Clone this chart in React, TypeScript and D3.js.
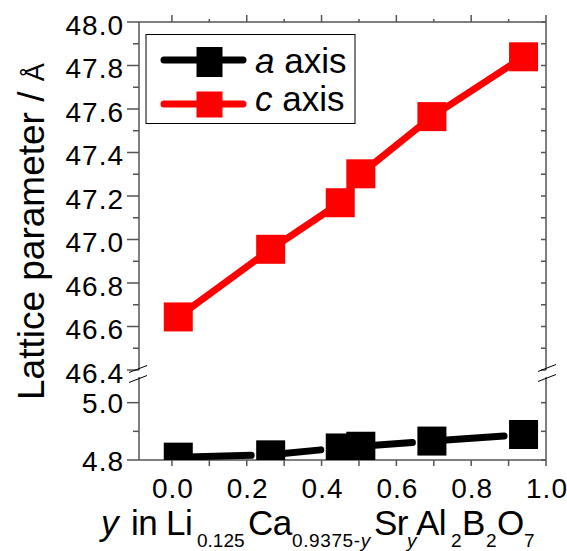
import * as d3 from 'd3'

// composition y in Li0.125Ca0.9375-ySryAl2B2O7
const Y_FRACTION = [0.017, 0.264, 0.45, 0.505, 0.695, 0.94]
const A_AXIS = [4.81, 4.818, 4.842, 4.848, 4.866, 4.889]
const C_AXIS = [46.644, 46.955, 47.169, 47.302, 47.565, 47.84]

const X_TICKS = [0, 0.2, 0.4, 0.6, 0.8, 1.0]
const X_MINOR = [0.1, 0.3, 0.5, 0.7, 0.9]
const UPPER_TICKS = [46.4, 46.6, 46.8, 47.0, 47.2, 47.4, 47.6, 47.8, 48.0]
const UPPER_MINOR = [46.5, 46.7, 46.9, 47.1, 47.3, 47.5, 47.7, 47.9]
const LOWER_TICKS = [4.8, 5.0]
const LOWER_MINOR = [4.9]

const FONT = '"Liberation Sans", Arial, sans-serif'
const AXIS_COLOR = '#555'
const MS = 29 // marker size

const W = 567
const H = 551
const L = 139, R = 546
const TOP = 22, BREAK_UP = 370, BREAK_LO = 374, BOTTOM = 460

export default function App() {
  const x = d3.scaleLinear().domain([-0.088, 1.0]).range([L, R])
  const yUp = d3.scaleLinear().domain([46.4, 48.0]).range([BREAK_UP, TOP])
  const yLo = d3.scaleLinear().domain([4.8, 5.1]).range([BOTTOM, BREAK_LO])

  const redPts: [number, number][] = Y_FRACTION.map((v, i) => [x(v), yUp(C_AXIS[i])])
  const blackPts: [number, number][] = Y_FRACTION.map((v, i) => [x(v), yLo(A_AXIS[i])])
  const line = d3.line()

  // black line stops short of the next symbol
  const blackSegs: string[] = []
  for (let i = 0; i < blackPts.length - 1; i++) {
    const [x0, y0] = blackPts[i]
    const [x1, y1] = blackPts[i + 1]
    const ex = x1 - MS / 2 - 5
    if (ex <= x0 + MS / 2) continue
    const ey = y0 + (y1 - y0) * (ex - x0) / (x1 - x0)
    blackSegs.push(line([[x0, y0], [ex, ey]]) as string)
  }

  const txt = { fontFamily: FONT, fill: '#000' }

  const slash = (cx: number, cy: number) => (
    <line x1={cx - 9} y1={cy + 3.5} x2={cx + 9} y2={cy - 3.5} stroke="#000" strokeWidth={1} />
  )

  return (
    <svg width={W} height={H} style={{ position: 'absolute', left: 0, top: 0, background: '#fff' }}>
      <defs>
        <clipPath id="clipUp"><rect x={L} y={TOP} width={R - L} height={BREAK_UP - TOP} /></clipPath>
        <clipPath id="clipLo"><rect x={L} y={BREAK_LO} width={R - L} height={BOTTOM - BREAK_LO} /></clipPath>
      </defs>

      {/* frame */}
      <g stroke={AXIS_COLOR} strokeWidth={1.5} fill="none">
        <line x1={L} x2={R} y1={TOP} y2={TOP} />
        <line x1={L} x2={R} y1={BOTTOM} y2={BOTTOM} />
        <line x1={L} x2={L} y1={TOP} y2={BREAK_UP} />
        <line x1={L} x2={L} y1={BREAK_LO + 3} y2={BOTTOM} />
        <line x1={R} x2={R} y1={TOP} y2={BREAK_UP} />
        <line x1={R} x2={R} y1={BREAK_LO + 3} y2={BOTTOM} />

        {X_TICKS.map(t => <line key={'bt' + t} x1={x(t)} x2={x(t)} y1={BOTTOM} y2={BOTTOM + 6} />)}
        {X_MINOR.map(t => <line key={'bm' + t} x1={x(t)} x2={x(t)} y1={BOTTOM} y2={BOTTOM + 6} />)}
        {X_TICKS.map(t => <line key={'tt' + t} x1={x(t)} x2={x(t)} y1={TOP} y2={TOP - 7} />)}
        {X_MINOR.map(t => <line key={'tm' + t} x1={x(t)} x2={x(t)} y1={TOP} y2={TOP - 3} />)}

        {UPPER_TICKS.map(t => <line key={'ul' + t} x1={L - 12} x2={L} y1={yUp(t)} y2={yUp(t)} />)}
        {UPPER_MINOR.map(t => <line key={'um' + t} x1={L - 6} x2={L} y1={yUp(t)} y2={yUp(t)} />)}
        {LOWER_TICKS.map(t => <line key={'ll' + t} x1={L - 12} x2={L} y1={yLo(t)} y2={yLo(t)} />)}
        {LOWER_MINOR.map(t => <line key={'lm' + t} x1={L - 6} x2={L} y1={yLo(t)} y2={yLo(t)} />)}

        {[...UPPER_TICKS, ...UPPER_MINOR].map(t => <line key={'ur' + t} x1={R - 5} x2={R} y1={yUp(t)} y2={yUp(t)} />)}
        {[...LOWER_TICKS, ...LOWER_MINOR].map(t => <line key={'lr' + t} x1={R - 5} x2={R} y1={yLo(t)} y2={yLo(t)} />)}
      </g>

      {/* axis break marks */}
      {slash(L - 1, BREAK_UP - 1)}
      {slash(L - 1, BREAK_LO + 5)}
      {slash(R + 1, BREAK_UP - 2)}
      {slash(R + 1, BREAK_LO + 4)}

      {/* tick labels */}
      <g {...txt} fontSize={28} textAnchor="end">
        {UPPER_TICKS.map(t => <text key={'uy' + t} x={124} y={yUp(t) + 12.5} letterSpacing={1}>{t.toFixed(1)}</text>)}
        {LOWER_TICKS.map(t => <text key={'ly' + t} x={124} y={yLo(t) + 10.5} letterSpacing={1}>{t.toFixed(1)}</text>)}
      </g>
      <g {...txt} fontSize={28} textAnchor="middle">
        {X_TICKS.map(t => <text key={'x' + t} x={x(t) + 1} y={498} letterSpacing={1}>{t.toFixed(1)}</text>)}
      </g>

      {/* c axis */}
      <g clipPath="url(#clipUp)">
        <path d={line(redPts) as string} fill="none" stroke="#ff0000" strokeWidth={7} strokeLinejoin="round" strokeLinecap="round" />
        {redPts.map(([px, py], i) => (
          <rect key={'r' + i} x={px - MS / 2} y={py - MS / 2} width={MS} height={MS} fill="#ff0000" />
        ))}
      </g>

      {/* a axis */}
      <g clipPath="url(#clipLo)">
        {blackSegs.map((d, i) => (
          <path key={'bs' + i} d={d} fill="none" stroke="#000" strokeWidth={7} strokeLinecap="round" />
        ))}
        {blackPts.map(([px, py], i) => (
          <rect key={'b' + i} x={px - MS / 2} y={py - MS / 2} width={MS} height={MS} fill="#000" />
        ))}
      </g>

      {/* legend */}
      <rect x={146} y={34.5} width={209} height={89} fill="#fff" stroke="#000" strokeWidth={1} />
      <line x1={164} x2={243} y1={60} y2={60} stroke="#000" strokeWidth={7} strokeLinecap="round" />
      <rect x={196.5} y={47} width={26} height={30} fill="#000" />
      <line x1={164} x2={243} y1={104} y2={104} stroke="#ff0000" strokeWidth={7} strokeLinecap="round" />
      <rect x={196.5} y={91.5} width={26} height={26} fill="#ff0000" />
      <text {...txt} fontSize={35} x={255} y={72.5}>
        <tspan fontStyle="italic">a</tspan> axis
      </text>
      <text {...txt} fontSize={35} x={255} y={111}>
        <tspan fontStyle="italic">c</tspan> axis
      </text>

      {/* y title */}
      <text {...txt} fontSize={37} transform="translate(43.5,400) rotate(-90)">
        Lattice parameter / <tspan fontSize={27}>Å</tspan>
      </text>

      {/* x title */}
      <g {...txt}>
        <text fontSize={35} y={535} letterSpacing={-0.5}>
          <tspan x={101} fontStyle="italic">y</tspan>
          <tspan x={131}>in</tspan>
          <tspan x={166}>Li</tspan>
          <tspan x={248}>Ca</tspan>
          <tspan x={374}>Sr</tspan>
          <tspan x={416}>Al</tspan>
          <tspan x={462}>B</tspan>
          <tspan x={497}>O</tspan>
        </text>
        <text fontSize={19} y={547}>
          <tspan x={197}>0.125</tspan>
          <tspan x={292} letterSpacing={0.6}>0.9375-</tspan>
          <tspan fontStyle="italic">y</tspan>
          <tspan x={407} fontStyle="italic">y</tspan>
          <tspan x={451}>2</tspan>
          <tspan x={486}>2</tspan>
          <tspan x={524}>7</tspan>
        </text>
      </g>
    </svg>
  )
}
